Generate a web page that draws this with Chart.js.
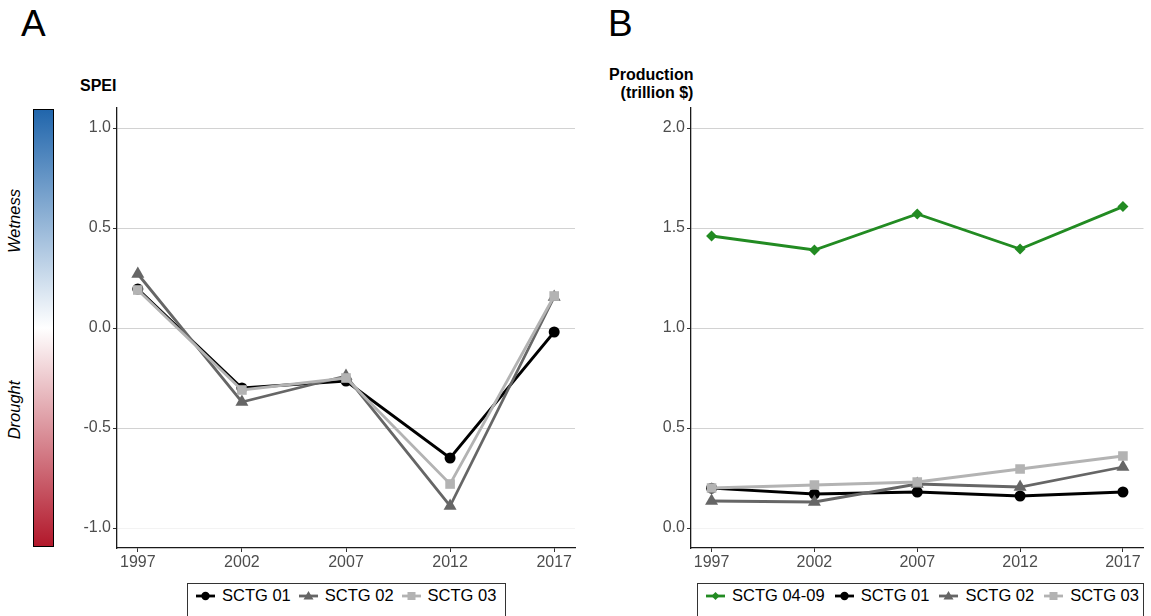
<!DOCTYPE html>
<html>
<head>
<meta charset="utf-8">
<script src="https://cdn.jsdelivr.net/npm/chart.js@4/dist/chart.umd.min.js"></script>
<style>
  html, body { margin: 0; padding: 0; background: #fff; }
  body { width: 1151px; height: 616px; position: relative; overflow: hidden;
         font-family: "Liberation Sans", Arial, sans-serif; }
  canvas { position: absolute; top: 0; }
  .panel-tag { position: absolute; font-size: 37px; line-height: 37px; color: #000; }
  .ytitle { position: absolute; font-weight: bold; font-size: 16px; line-height: 17.5px; color: #000; }
  .cbar { position: absolute; left: 33px; top: 109px; width: 19px; height: 436px;
          border: 1.2px solid #000;
          background: linear-gradient(to bottom, #2166ac 0%, #ffffff 50%, #b2182b 100%); }
  .cbar-label { position: absolute; font-style: italic; font-size: 16.5px; line-height: 16.5px;
                color: #000; white-space: nowrap;
                transform: translate(-50%, -50%) rotate(-90deg); }
  .legend { position: absolute; top: 583px; height: 40px; box-sizing: border-box;
            border: 1px solid #333; display: flex; align-items: flex-start;
            padding: 2px 0 0 8px; font-size: 16.5px; color: #000; }
  .legend .item { display: flex; align-items: center; }
  .legend svg { width: 19px; height: 14px; margin-right: 7px; }
</style>
</head>
<body>
<div class="panel-tag" style="left:21px; top:5px;">A</div>
<div class="panel-tag" style="left:608px; top:5px;">B</div>

<div class="ytitle" style="left:80px; top:77px;">SPEI</div>
<div class="ytitle" style="left:609px; top:66px; text-align:right;">Production<br>(trillion $)</div>

<div class="cbar"></div>
<div class="cbar-label" style="left:13.6px; top:220.5px;">Wetness</div>
<div class="cbar-label" style="left:13.6px; top:410px;">Drought</div>

<canvas id="chartA" width="590" height="580" style="left:0px;"></canvas>
<canvas id="chartB" width="551" height="580" style="left:600px;"></canvas>

<div class="legend" id="legendA" style="left:187px; width:319px;"></div>
<div class="legend" id="legendB" style="left:697px; width:447px;"></div>

<script>
// Survey years shared by both panels
const years = [1997, 2002, 2007, 2012, 2017];

// Panel A: SPEI drought index by commodity group
const speiSCTG01 = [0.195, -0.30, -0.265, -0.65, -0.02];
const speiSCTG02 = [0.27, -0.37, -0.24, -0.89, 0.155];
const speiSCTG03 = [0.19, -0.31, -0.25, -0.78, 0.16];
const speiTicks = [-1.0, -0.5, 0.0, 0.5, 1.0];

// Panel B: production value (trillion $)
const prodSCTG0409 = [1.46, 1.39, 1.57, 1.395, 1.607];
const prodSCTG01 = [0.199, 0.17, 0.18, 0.16, 0.18];
const prodSCTG02 = [0.135, 0.13, 0.22, 0.205, 0.305];
const prodSCTG03 = [0.20, 0.215, 0.23, 0.295, 0.36];
const prodTicks = [0.0, 0.5, 1.0, 1.5, 2.0];

const COLORS = {
  s0409: '#228b22',
  s01: '#000000',
  s02: '#666666',
  s03: '#b3b3b3'
};

Chart.defaults.font.family = '"Liberation Sans", Arial, sans-serif';

function series(label, values, color, style, radius, order) {
  return {
    label,
    data: values.map((v, i) => ({ x: years[i], y: v })),
    borderColor: color,
    backgroundColor: color,
    borderWidth: 2.8,
    pointStyle: style,
    pointRadius: radius,
    pointHoverRadius: radius,
    pointBackgroundColor: color,
    pointBorderColor: color,
    pointBorderWidth: 0,
    tension: 0,
    order
  };
}

function makeOptions(yMin, yMax, yTicks, padLeft, padRight) {
  return {
    responsive: false,
    devicePixelRatio: 1,
    animation: false,
    events: [],
    layout: { padding: { left: padLeft, right: padRight, top: 108, bottom: 2 } },
    plugins: { legend: { display: false }, tooltip: { enabled: false } },
    scales: {
      x: {
        type: 'linear',
        min: 1996, max: 2018,
        afterBuildTicks: s => { s.ticks = years.map(v => ({ value: v })); },
        afterFit: s => { s.height = 30; },
        ticks: { color: '#4d4d4d', font: { size: 16 }, padding: 1, maxRotation: 0,
                 callback: v => String(v) },
        grid: { display: true, drawOnChartArea: false, tickLength: 4, tickColor: '#333', tickWidth: 1 },
        border: { display: true, color: '#1a1a1a', width: 1.3 }
      },
      y: {
        type: 'linear',
        min: yMin, max: yMax,
        afterBuildTicks: s => { s.ticks = yTicks.map(v => ({ value: v })); },
        afterFit: s => { s.width = 40; },
        ticks: { color: '#4d4d4d', font: { size: 16 }, padding: 2,
                 callback: v => Number(v).toFixed(1) },
        grid: {
          display: true,
          drawOnChartArea: true,
          tickLength: 4, tickColor: '#333', tickWidth: 1,
          lineWidth: 1,
          color: c => (c.tick && c.tick.value === yTicks[0]) ? '#f3f3f3' : '#d2d2d2'
        },
        border: { display: true, color: '#1a1a1a', width: 1.3 }
      }
    }
  };
}

new Chart(document.getElementById('chartA'), {
  type: 'line',
  data: {
    datasets: [
      series('SCTG 01', speiSCTG01, COLORS.s01, 'circle', 5.5, 2),
      series('SCTG 02', speiSCTG02, COLORS.s02, 'triangle', 7.5, 1),
      series('SCTG 03', speiSCTG03, COLORS.s03, 'rect', 6.8, 0)
    ]
  },
  options: makeOptions(-1.1, 1.1, speiTicks, 77, 15)
});

new Chart(document.getElementById('chartB'), {
  type: 'line',
  data: {
    datasets: [
      series('SCTG 04-09', prodSCTG0409, COLORS.s0409, 'rectRot', 5.5, 3),
      series('SCTG 01', prodSCTG01, COLORS.s01, 'circle', 5.5, 2),
      series('SCTG 02', prodSCTG02, COLORS.s02, 'triangle', 7.5, 1),
      series('SCTG 03', prodSCTG03, COLORS.s03, 'rect', 6.8, 0)
    ]
  },
  options: makeOptions(-0.1, 2.1, prodTicks, 51, 2)
});

// Legend keys: a line segment with the series marker in the middle
function markerSvg(style, color) {
  let shape = '';
  if (style === 'circle') shape = `<circle cx="9.5" cy="7" r="4.2" fill="${color}"/>`;
  else if (style === 'triangle') shape = `<polygon points="9.5,2 14.5,10.5 4.5,10.5" fill="${color}"/>`;
  else if (style === 'rect') shape = `<rect x="5.5" y="3" width="8" height="8" fill="${color}"/>`;
  else if (style === 'rectRot') shape = `<polygon points="9.5,3 13.5,7 9.5,11 5.5,7" fill="${color}"/>`;
  return `<svg viewBox="0 0 19 14"><line x1="0" y1="7" x2="19" y2="7" stroke="${color}" stroke-width="2.8"/>${shape}</svg>`;
}

function buildLegend(id, entries, gap) {
  const el = document.getElementById(id);
  entries.forEach((e, i) => {
    const item = document.createElement('div');
    item.className = 'item';
    if (i < entries.length - 1) item.style.marginRight = gap + 'px';
    item.innerHTML = markerSvg(e.style, e.color) + '<span>' + e.label + '</span>';
    el.appendChild(item);
  });
}

buildLegend('legendA', [
  { label: 'SCTG 01', style: 'circle', color: COLORS.s01 },
  { label: 'SCTG 02', style: 'triangle', color: COLORS.s02 },
  { label: 'SCTG 03', style: 'rect', color: COLORS.s03 }
], 8);

buildLegend('legendB', [
  { label: 'SCTG 04-09', style: 'rectRot', color: COLORS.s0409 },
  { label: 'SCTG 01', style: 'circle', color: COLORS.s01 },
  { label: 'SCTG 02', style: 'triangle', color: COLORS.s02 },
  { label: 'SCTG 03', style: 'rect', color: COLORS.s03 }
], 10);
</script>
</body>
</html>
